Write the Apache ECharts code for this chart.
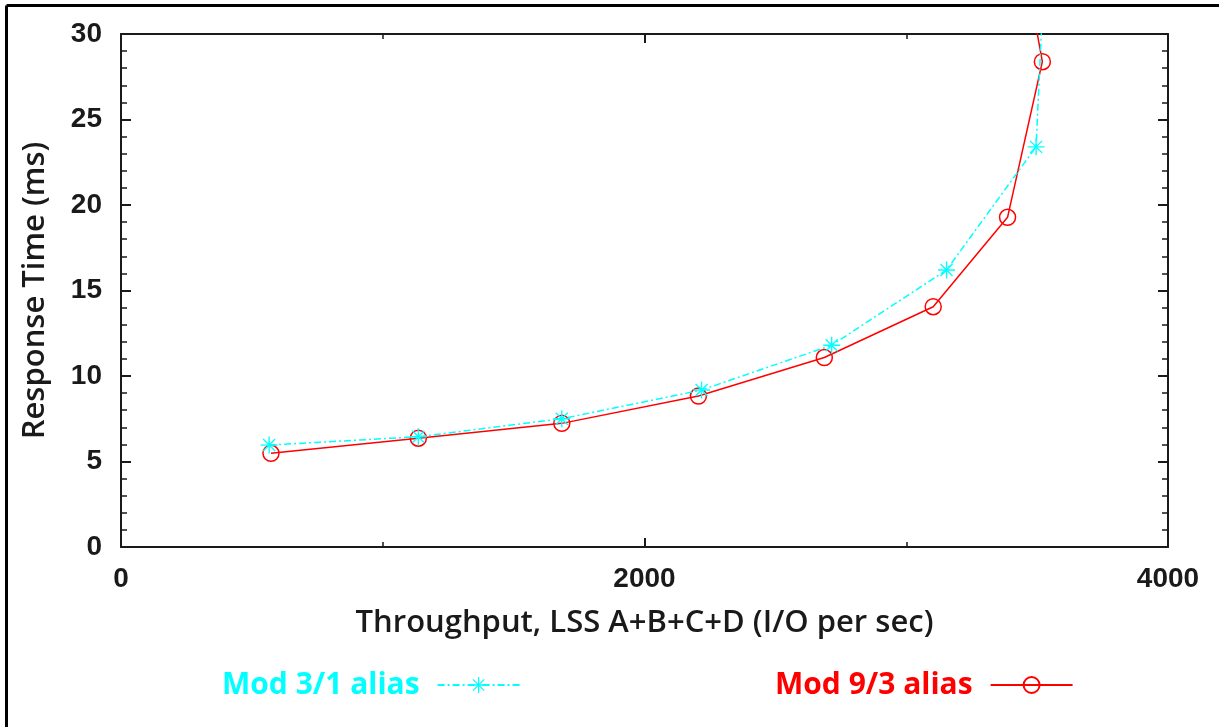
<!DOCTYPE html>
<html>
<head>
<meta charset="utf-8">
<script src="https://cdn.jsdelivr.net/npm/echarts@6/dist/echarts.min.js"></script>
<style>
  html, body { margin: 0; padding: 0; background: #ffffff; }
  #chart { width: 1219px; height: 727px; }
</style>
</head>
<body>
<div id="chart"></div>
<script>
// Throughput (I/O per sec) and response time (ms) for each aliasing scheme
const mod31Throughput = [566, 1136, 1684, 2218, 2715, 3154, 3496, 3528];
const mod31Response   = [5.96, 6.45, 7.5, 9.18, 11.8, 16.2, 23.4, 34];
const mod93Throughput = [573, 1136, 1684, 2206, 2687, 3103, 3387, 3520, 3477];
const mod93Response   = [5.48, 6.36, 7.23, 8.83, 11.08, 14.05, 19.28, 28.38, 32];

const seriesNames = ['Mod 3/1 alias', 'Mod 9/3 alias'];
const xTicks = { min: 0, max: 4000, step: 2000 };
const yTicks = { min: 0, max: 30, step: 5 };

const CYAN = '#00ffff';
const RED = '#ff0000';
const INK = '#1a1a1a';

// eight-armed asterisk marker (plus overlaid with a cross)
const asterisk = 'path://' +
  'M-0.8,-10 L0.8,-10 L0.8,10 L-0.8,10 Z ' +
  'M10,-0.8 L10,0.8 L-10,0.8 L-10,-0.8 Z ' +
  'M-6.5,-7.6 L7.6,6.5 L6.5,7.6 L-7.6,-6.5 Z ' +
  'M7.6,-6.5 L-6.5,7.6 L-7.6,6.5 L6.5,-7.6 Z';

const pairs = (xs, ys) => xs.map((x, i) => [x, ys[i]]);

const labelFont = { fontFamily: 'Liberation Sans', fontSize: 28, fontWeight: 'bold', color: INK };
const nameFont = { fontFamily: 'Open Sans', fontSize: 31, fontWeight: 600, color: INK };

function xAxisDef(pos, withLabels) {
  return {
    type: 'value', position: pos,
    min: xTicks.min, max: xTicks.max, interval: xTicks.step,
    axisLine: { show: true, onZero: false, lineStyle: { color: INK, width: 2 } },
    axisTick: { show: true, inside: true, length: 9, lineStyle: { color: INK, width: 2 } },
    minorTick: { show: true, splitNumber: 2, length: 5, lineStyle: { color: INK, width: 1.5 } },
    splitLine: { show: false },
    axisLabel: withLabels
      ? Object.assign({ margin: 18, formatter: v => String(v) }, labelFont)
      : { show: false },
    name: withLabels ? 'Throughput, LSS A+B+C+D (I/O per sec)' : '',
    nameLocation: 'middle', nameGap: 61, nameTextStyle: nameFont
  };
}
function yAxisDef(pos, withLabels) {
  return {
    type: 'value', position: pos,
    min: yTicks.min, max: yTicks.max, interval: yTicks.step,
    axisLine: { show: true, onZero: false, lineStyle: { color: INK, width: 2 } },
    axisTick: { show: true, inside: true, length: 10, lineStyle: { color: INK, width: 2 } },
    minorTick: { show: true, splitNumber: 5, length: 6, lineStyle: { color: INK, width: 1.5 } },
    splitLine: { show: false },
    axisLabel: withLabels
      ? Object.assign({ margin: 19, formatter: v => String(v) }, labelFont)
      : { show: false },
    name: withLabels ? 'Response Time (ms)' : '',
    nameLocation: 'middle', nameGap: 70, nameTextStyle: nameFont
  };
}

const legendBase = {
  orient: 'horizontal', align: 'right', top: 670, padding: 0,
  itemWidth: 82, itemHeight: 20,
  textStyle: { fontFamily: 'Open Sans', fontSize: 30, fontWeight: 700, padding: [0, 13, 0, 0] }
};

const chart = echarts.init(document.getElementById('chart'), null, { renderer: 'canvas' });
chart.setOption({
  animation: false,
  backgroundColor: '#ffffff',
  grid: { left: 121, top: 34, right: 51, bottom: 180, containLabel: false },
  xAxis: [xAxisDef('bottom', true), xAxisDef('top', false)],
  yAxis: [yAxisDef('left', true), yAxisDef('right', false)],
  legend: [
    Object.assign({}, legendBase, {
      left: 222,
      data: [{ name: seriesNames[0], textStyle: { color: CYAN } }]
    }),
    Object.assign({}, legendBase, {
      left: 775,
      data: [{ name: seriesNames[1], textStyle: { color: RED } }]
    })
  ],
  graphic: [
    { type: 'line', shape: { x1: 6.5, y1: 5.5, x2: 1219, y2: 5.5 }, style: { stroke: '#000', lineWidth: 3 } },
    { type: 'line', shape: { x1: 6.5, y1: 5.5, x2: 6.5, y2: 727 }, style: { stroke: '#000', lineWidth: 3 } }
  ],
  series: [
    {
      name: seriesNames[0], type: 'line', clip: true,
      data: pairs(mod31Throughput, mod31Response),
      symbol: asterisk, symbolSize: 17,
      lineStyle: { color: CYAN, width: 1.5, type: [7, 3, 2, 3] },
      itemStyle: { color: CYAN, borderWidth: 0 },
      z: 3
    },
    {
      name: seriesNames[1], type: 'line', clip: true,
      data: pairs(mod93Throughput, mod93Response),
      symbol: 'circle', symbolSize: 16,
      lineStyle: { color: RED, width: 1.5 },
      itemStyle: { color: 'rgba(255,255,255,0)', borderColor: RED, borderWidth: 1.5 },
      z: 2
    }
  ]
});
</script>
</body>
</html>
